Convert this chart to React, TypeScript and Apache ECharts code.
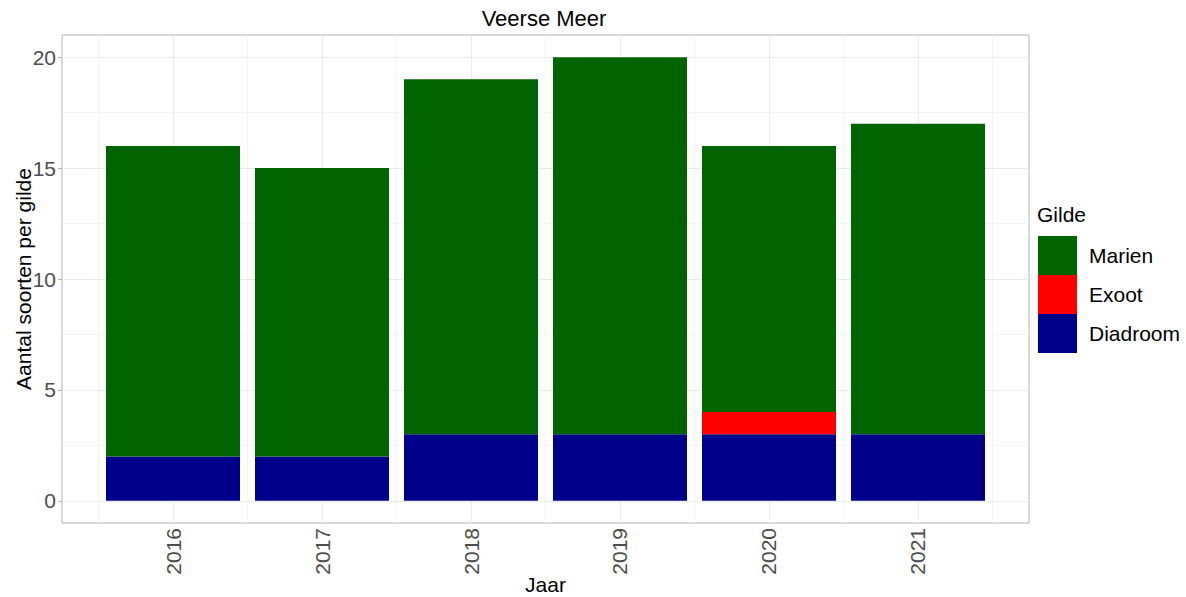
import React, { useEffect, useRef } from "react";
import * as echarts from "echarts";

const years = [2016, 2017, 2018, 2019, 2020, 2021];
const diadroom = [2, 2, 3, 3, 3, 3];
const exoot = [0, 0, 0, 0, 1, 0];
const marien = [14, 13, 16, 17, 12, 14];
const yTicks = [0, 5, 10, 15, 20];
const yMinorGrid = [2.5, 7.5, 12.5, 17.5];
const xMinorGrid = [2015.5, 2016.5, 2017.5, 2018.5, 2019.5, 2020.5, 2021.5];

const FONT = "'Liberation Sans', Arial, sans-serif";
const MAJOR = "#ebebeb";
const MINOR = "#f4f4f4";

export default function App() {
  const ref = useRef<HTMLDivElement>(null);
  useEffect(() => {
    const chart = echarts.init(ref.current!, undefined, { renderer: "svg" });
    const gridLines: any[] = [
      ...yMinorGrid.map((v) => ({ yAxis: v, lineStyle: { color: MINOR, width: 1 } })),
      ...xMinorGrid.map((v) => ({ xAxis: v, lineStyle: { color: MINOR, width: 1 } })),
      ...yTicks.map((v) => ({ yAxis: v, lineStyle: { color: MAJOR, width: 1 } })),
      ...years.map((v) => ({ xAxis: v, lineStyle: { color: MAJOR, width: 1 } })),
    ];
    // data as [value, year] so that stacking happens on the value dimension
    const mk = (name: string, values: number[], color: string, withGrid: boolean) => ({
      name,
      type: "bar",
      stack: "g",
      barWidth: 134,
      z: 3,
      itemStyle: { color },
      emphasis: { disabled: true },
      encode: { x: 1, y: 0 },
      data: years.map((y, i) => [values[i], y]),
      markLine: withGrid
        ? {
            silent: true,
            z: 1,
            symbol: ["none", "none"],
            label: { show: false },
            lineStyle: { type: "solid" },
            emphasis: { disabled: true },
            data: gridLines,
          }
        : undefined,
    });
    chart.setOption({
      animation: false,
      backgroundColor: "#ffffff",
      textStyle: { fontFamily: FONT },
      title: {
        text: "Veerse Meer",
        left: 544,
        top: 7,
        textAlign: "center",
        padding: 0,
        textStyle: { fontFamily: FONT, fontSize: 22, fontWeight: "normal", color: "#000" },
      },
      grid: {
        left: 62,
        top: 35,
        width: 967,
        height: 488,
        show: true,
        outerBoundsMode: "none",
        containLabel: false,
        borderColor: "#b3b3b3",
        borderWidth: 1,
        backgroundColor: "#fff",
        z: 0,
      },
      legend: {
        orient: "vertical",
        left: 1038,
        top: 236,
        padding: 0,
        itemWidth: 39,
        itemHeight: 39,
        itemGap: 0,
        icon: "rect",
        selectedMode: false,
        data: ["Marien", "Exoot", "Diadroom"],
        textStyle: { fontFamily: FONT, fontSize: 21, color: "#000", padding: [0, 0, 0, 7] },
      },
      graphic: [
        {
          type: "text",
          left: 1037,
          top: 204,
          style: { text: "Gilde", font: `21px ${FONT}`, fill: "#000" },
        },
      ],
      xAxis: {
        type: "value",
        min: 2015.255,
        max: 2021.745,
        name: "Jaar",
        nameLocation: "middle",
        nameGap: 51,
        nameMoveOverlap: false,
        nameTextStyle: { fontFamily: FONT, fontSize: 21, color: "#000" },
        axisLine: { show: false },
        splitLine: { show: false },
        axisTick: { show: true, length: 4, customValues: years, lineStyle: { color: "#b3b3b3" } },
        axisLabel: {
          customValues: years,
          rotate: 90,
          margin: 5,
          fontFamily: FONT,
          fontSize: 21,
          color: "#4d4d4d",
          formatter: (v: number) => String(v),
        },
      },
      yAxis: {
        type: "value",
        min: -1,
        max: 21,
        name: "Aantal soorten per gilde",
        nameLocation: "middle",
        nameGap: 28,
        nameMoveOverlap: false,
        nameTextStyle: { fontFamily: FONT, fontSize: 21, color: "#000" },
        axisLine: { show: false },
        splitLine: { show: false },
        axisTick: { show: true, length: 4, customValues: yTicks, lineStyle: { color: "#b3b3b3" } },
        axisLabel: {
          customValues: yTicks,
          margin: 6,
          fontFamily: FONT,
          fontSize: 21,
          color: "#4d4d4d",
        },
      },
      series: [
        mk("Diadroom", diadroom, "#00008b", true),
        mk("Exoot", exoot, "#ff0000", false),
        mk("Marien", marien, "#006400", false),
      ],
    });
    return () => chart.dispose();
  }, []);
  return <div ref={ref} style={{ position: "fixed", left: 0, top: 0, width: 1186, height: 597 }} />;
}
